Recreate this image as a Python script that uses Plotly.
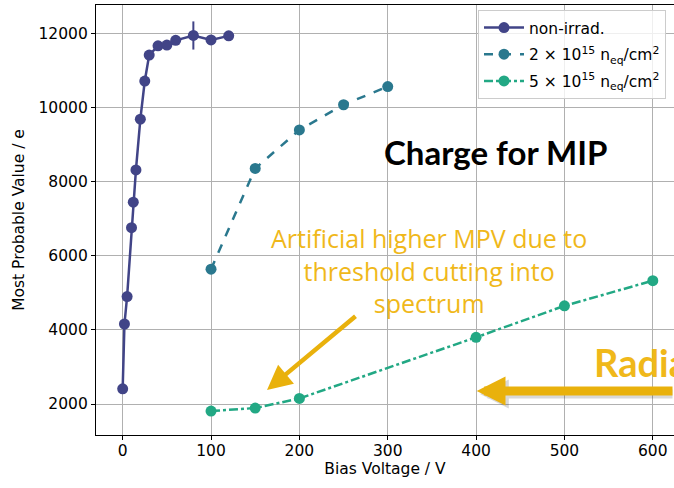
import plotly.graph_objects as go

# ---- data ----
v_non = [0, 2, 5, 10, 12, 15, 20, 25, 30, 40, 50, 60, 80, 100, 120]
mpv_non = [2410, 4160, 4900, 6760, 7450, 8320, 9690, 10720, 11420, 11670, 11690, 11820, 11950, 11830, 11940]
err_non = [40, 40, 40, 40, 40, 40, 40, 40, 40, 40, 40, 40, 380, 40, 40]

v_2e15 = [100, 150, 200, 250, 300]
mpv_2e15 = [5640, 8360, 9400, 10080, 10570]
err_2e15 = [40, 40, 40, 40, 40]

v_5e15 = [100, 150, 200, 400, 500, 600]
mpv_5e15 = [1810, 1890, 2150, 3800, 4650, 5330]
err_5e15 = [40, 40, 40, 40, 40, 40]

names = ["non-irrad.<sup>\u200b</sup><sub>\u200b</sub>",
         "2 × 10<sup>15</sup> n<sub>eq</sub>/cm<sup>2</sup>",
         "5 × 10<sup>15</sup> n<sub>eq</sub>/cm<sup>2</sup>"]
colors = ["#414487", "#2a788e", "#22a884"]
dashes = ["solid", "dash", "dashdot"]

x_ticks = [0, 100, 200, 300, 400, 500, 600]
y_ticks = [2000, 4000, 6000, 8000, 10000, 12000]
y_ticktext = [str(v) for v in y_ticks]

W, H = 674, 488
L, R, T, B = 96, 0, 5, 53

def px(xp, yp):
    return (xp - L) / (W - L - R), (H - B - yp) / (H - T - B)

fig = go.Figure()
for i, (xs, ys, es) in enumerate([(v_non, mpv_non, err_non),
                                  (v_2e15, mpv_2e15, err_2e15),
                                  (v_5e15, mpv_5e15, err_5e15)]):
    fig.add_trace(go.Scatter(
        x=xs, y=ys, name=names[i], mode="lines+markers", legendgroup=str(i),
        line=dict(color=colors[i], width=2.5, dash=dashes[i]),
        marker=dict(color=colors[i], size=11),
        error_y=dict(type="data", array=es, color=colors[i], thickness=2, width=0),
    ))

axis_font = dict(family="DejaVu Sans", size=15.5, color="black")
fig.update_xaxes(range=[-30.2, 624], tickvals=x_ticks, showgrid=True, gridcolor="#b0b0b0", gridwidth=1,
                 showline=True, linecolor="black", linewidth=1.2, mirror=True,
                 ticks="outside", ticklen=4, tickcolor="black", tickfont=axis_font,
                 ticklabelstandoff=-3,
                 title=dict(text="Bias Voltage / V", font=axis_font, standoff=2), zeroline=False)
fig.update_yaxes(range=[1163, 12773], tickvals=y_ticks, ticktext=y_ticktext, showgrid=True,
                 gridcolor="#b0b0b0", gridwidth=1,
                 showline=True, linecolor="black", linewidth=1.2, mirror=False,
                 ticks="outside", ticklen=4, tickcolor="black", tickfont=axis_font,
                 title=dict(text="Most Probable Value / e", font=axis_font, standoff=10), zeroline=False)

lx, ly = px(478, 10)
yellow = "#F0B81A"
arrow_yellow = "#E9B10C"
anns = []
# small arrow
hx, hy = px(267, 390)
anns.append(dict(x=hx, y=hy, xref="paper", yref="paper", ax=90, ay=-75, text="", showarrow=True,
                 arrowhead=2, arrowsize=1.1, arrowwidth=4.5, arrowcolor=arrow_yellow))
# big arrow shadow
hx, hy = px(480, 394)
anns.append(dict(x=hx, y=hy, xref="paper", yref="paper", ax=260, ay=0, text="", showarrow=True,
                 arrowhead=2, arrowsize=0.64, arrowwidth=9, arrowcolor="rgba(0,0,0,0.15)"))
hx, hy = px(476.7, 391)
anns.append(dict(x=hx, y=hy, xref="paper", yref="paper", ax=260, ay=0, text="", showarrow=True,
                 arrowhead=2, arrowsize=0.64, arrowwidth=9, arrowcolor=arrow_yellow))
# texts
tx, ty = px(429, 270)
anns.append(dict(x=tx, y=ty, xref="paper", yref="paper", showarrow=False, align="center",
                 xanchor="center", yanchor="middle",
                 text="Artificial higher MPV due to<br>threshold cutting into<br>spectrum",
                 font=dict(family="Open Sans", size=25, color=yellow)))
tx, ty = px(495, 152)
anns.append(dict(x=tx, y=ty, xref="paper", yref="paper", showarrow=False,
                 xanchor="center", yanchor="middle",
                 text="<b>Charge for MIP</b>", font=dict(family="Lato", size=33, color="black")))
tx, ty = px(592, 362)
anns.append(dict(x=tx, y=ty, xref="paper", yref="paper", showarrow=False, xanchor="left",
                 yanchor="middle",
                 text="<b>Radiation</b>", font=dict(family="Lato", size=38, color=yellow)))

fig.update_layout(
    width=W, height=H, margin=dict(l=L, r=R, t=T, b=B),
    plot_bgcolor="white", paper_bgcolor="white",
    legend=dict(x=lx, y=ly, xanchor="left", yanchor="top", bgcolor="rgba(255,255,255,0.8)",
                bordercolor="#cccccc", borderwidth=1, font=dict(family="DejaVu Sans", size=15.5, color="black"),
                tracegroupgap=3.5, itemwidth=40),
    annotations=anns, showlegend=True,
)

fig.write_html("out.html", config={"displayModeBar": False},
               post_script="document.body.style.margin='0';")
